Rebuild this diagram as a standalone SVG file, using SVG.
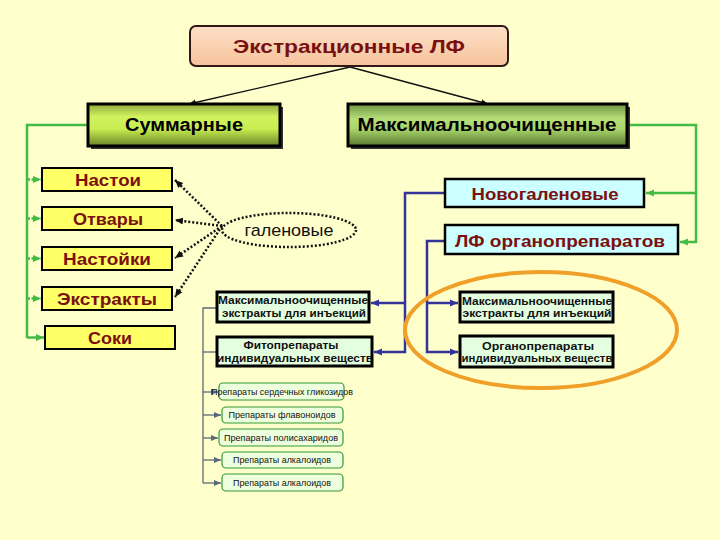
<svg xmlns="http://www.w3.org/2000/svg" width="720" height="540" viewBox="0 0 720 540">
<defs>
<linearGradient id="gTitle" x1="0" y1="0" x2="0" y2="1"><stop offset="0" stop-color="#FCE0C6"/><stop offset="1" stop-color="#F7C39C"/></linearGradient>
<linearGradient id="gSum" x1="0" y1="0" x2="0" y2="1"><stop offset="0" stop-color="#8FA83C"/><stop offset="0.3" stop-color="#D2F25E"/><stop offset="0.6" stop-color="#C6EC50"/><stop offset="1" stop-color="#6A8428"/></linearGradient>
<linearGradient id="gMax" x1="0" y1="0" x2="0" y2="1"><stop offset="0" stop-color="#6E9440"/><stop offset="0.35" stop-color="#B6DE78"/><stop offset="0.6" stop-color="#A8D46A"/><stop offset="1" stop-color="#587A30"/></linearGradient>
<marker id="aBlack" markerWidth="8" markerHeight="8" refX="7" refY="4" orient="auto" markerUnits="userSpaceOnUse"><path d="M0,1 L7,4 L0,7 z" fill="#111"/></marker>
<marker id="aGreen" markerWidth="9" markerHeight="9" refX="8" refY="4.5" orient="auto" markerUnits="userSpaceOnUse"><path d="M0,1 L8,4.5 L0,8 z" fill="#44BB44"/></marker>
<marker id="aBlue" markerWidth="9" markerHeight="9" refX="8" refY="4.5" orient="auto" markerUnits="userSpaceOnUse"><path d="M0,1 L8,4.5 L0,8 z" fill="#333399"/></marker>
<marker id="aGray" markerWidth="8" markerHeight="8" refX="7" refY="4" orient="auto" markerUnits="userSpaceOnUse"><path d="M0,1 L7,4 L0,7 z" fill="#5A6A7A"/></marker>
<marker id="aDot" markerWidth="9" markerHeight="9" refX="8" refY="4.5" orient="auto" markerUnits="userSpaceOnUse"><path d="M0,1 L8,4.5 L0,8 z" fill="#111"/></marker>
</defs>
<style>
.t{font-family:"Liberation Sans",Arial,sans-serif;font-weight:bold;text-anchor:middle}
.red{fill:#7A1010}
.blk{fill:#000}
.yel{fill:#FFFF66;stroke:#000;stroke-width:2}
.cyan{fill:#CCFFFF;stroke:#000;stroke-width:2.5}
.lg{fill:#E4FFE0;stroke:#000;stroke-width:3}
.sm{fill:#EEFFDD;stroke:#339933;stroke-width:1.2}
.st{font-family:"Liberation Sans",Arial,sans-serif;font-size:8.5px;fill:#111;text-anchor:middle}
.mt{font-family:"Liberation Sans",Arial,sans-serif;font-size:11px;font-weight:bold;fill:#111;text-anchor:middle}
.lb{fill:none;stroke:#111;stroke-width:1.3;marker-end:url(#aBlack)}
.lgr{fill:none;stroke:#44BB44;stroke-width:2.5}
.lbl{fill:none;stroke:#333399;stroke-width:2.5}
.lgy{fill:none;stroke:#5A6A7A;stroke-width:1.3}
.ld{fill:none;stroke:#111;stroke-width:2.5;stroke-dasharray:2 2;marker-end:url(#aDot)}
</style>
<rect width="720" height="540" fill="#FFFFCC"/>

<g id="connectors">
<line class="lb" x1="350" y1="67" x2="189" y2="104"/>
<line class="lb" x1="350" y1="67" x2="488" y2="104"/>
<polyline class="lgr" points="88,125 27,125 27,338"/>
<line class="lgr" x1="27" y1="179.5" x2="41" y2="179.5" stroke-dasharray="3 1.5" marker-end="url(#aGreen)"/>
<line class="lgr" x1="27" y1="218.5" x2="41" y2="218.5" stroke-dasharray="3 1.5" marker-end="url(#aGreen)"/>
<line class="lgr" x1="27" y1="258.5" x2="41" y2="258.5" stroke-dasharray="3 1.5" marker-end="url(#aGreen)"/>
<line class="lgr" x1="27" y1="298.5" x2="41" y2="298.5" stroke-dasharray="3 1.5" marker-end="url(#aGreen)"/>
<line class="lgr" x1="27" y1="337.5" x2="44" y2="337.5" marker-end="url(#aGreen)"/>
<polyline class="lgr" points="627,125 696,125 696,242 680,242" marker-end="url(#aGreen)"/>
<line class="lgr" x1="696" y1="193" x2="646" y2="193" marker-end="url(#aGreen)"/>
<polyline class="lbl" points="445,193 405,193 405,352 374,352" marker-end="url(#aBlue)"/>
<line class="lbl" x1="405" y1="303" x2="371" y2="303" marker-end="url(#aBlue)"/>
<polyline class="lbl" points="445,241 427,241 427,352 458,352" marker-end="url(#aBlue)"/>
<line class="lbl" x1="427" y1="303" x2="458" y2="303" marker-end="url(#aBlue)"/>
<polyline class="lgy" points="217,308 203,308 203,483"/>
<line class="lgy" x1="203" y1="352" x2="217" y2="352"/>
<line class="lgy" x1="203" y1="392" x2="218" y2="392" marker-end="url(#aGray)"/>
<line class="lgy" x1="203" y1="415" x2="221" y2="415" marker-end="url(#aGray)"/>
<line class="lgy" x1="203" y1="438" x2="218" y2="438" marker-end="url(#aGray)"/>
<line class="lgy" x1="203" y1="460" x2="221" y2="460" marker-end="url(#aGray)"/>
<line class="lgy" x1="203" y1="483" x2="221" y2="483" marker-end="url(#aGray)"/>
<line class="ld" x1="222" y1="226" x2="175" y2="180"/>
<line class="ld" x1="222" y1="226" x2="175" y2="220"/>
<line class="ld" x1="222" y1="226" x2="175" y2="258"/>
<line class="ld" x1="222" y1="226" x2="175" y2="297"/>
</g>

<g id="title">
<rect x="190" y="26" width="318" height="40" rx="6" fill="url(#gTitle)" stroke="#301818" stroke-width="2"/>
<text class="t red" x="349" y="53" font-size="19" textLength="232" lengthAdjust="spacingAndGlyphs">Экстракционные ЛФ</text>
</g>

<g id="summ">
<rect x="91" y="107" width="192" height="42" fill="#333"/>
<rect x="88" y="104" width="192" height="42" fill="url(#gSum)" stroke="#000" stroke-width="3"/>
<text class="t blk" x="184" y="131" font-size="18" textLength="118" lengthAdjust="spacingAndGlyphs">Суммарные</text>
</g>

<g id="maxoch">
<rect x="351" y="107" width="279" height="42" fill="#333"/>
<rect x="348" y="104" width="279" height="42" fill="url(#gMax)" stroke="#000" stroke-width="3"/>
<text class="t blk" x="487" y="131" font-size="18" textLength="259" lengthAdjust="spacingAndGlyphs">Максимальноочищенные</text>
</g>

<g id="nastoi"><rect class="yel" x="42" y="168" width="130" height="23"/><text class="t red" x="108" y="186" font-size="17" textLength="66" lengthAdjust="spacingAndGlyphs">Настои</text></g>
<g id="otvary"><rect class="yel" x="42" y="207" width="130" height="23"/><text class="t red" x="108" y="225" font-size="17" textLength="70" lengthAdjust="spacingAndGlyphs">Отвары</text></g>
<g id="nastoyki"><rect class="yel" x="42" y="247" width="130" height="23"/><text class="t red" x="107" y="265" font-size="17" textLength="88" lengthAdjust="spacingAndGlyphs">Настойки</text></g>
<g id="extrakty"><rect class="yel" x="42" y="287" width="130" height="23"/><text class="t red" x="107" y="305" font-size="17" textLength="100" lengthAdjust="spacingAndGlyphs">Экстракты</text></g>
<g id="soki"><rect class="yel" x="45" y="326" width="130" height="23"/><text class="t red" x="110" y="344" font-size="17" textLength="44" lengthAdjust="spacingAndGlyphs">Соки</text></g>

<g id="galen">
<ellipse cx="289" cy="230" rx="67" ry="17" fill="none" stroke="#111" stroke-width="2.5" stroke-dasharray="2 2"/>
<text x="289" y="236" font-family="'Liberation Sans',Arial,sans-serif" font-size="17" fill="#111" text-anchor="middle" textLength="89" lengthAdjust="spacingAndGlyphs">галеновые</text>
</g>

<g id="novogalen"><rect class="cyan" x="445" y="179" width="199" height="28"/><text class="t red" x="545" y="200" font-size="16" textLength="147" lengthAdjust="spacingAndGlyphs">Новогаленовые</text></g>
<g id="lforgan"><rect class="cyan" x="445" y="225" width="233" height="29"/><text class="t red" x="560" y="247" font-size="16" textLength="210" lengthAdjust="spacingAndGlyphs">ЛФ органопрепаратов</text></g>

<g id="maxinj-left"><rect class="lg" x="217" y="292" width="152" height="30"/>
<text class="mt" x="293" y="304" textLength="150" lengthAdjust="spacingAndGlyphs">Максимальноочищенные</text>
<text class="mt" x="294" y="317" textLength="144" lengthAdjust="spacingAndGlyphs">экстракты для инъекций</text></g>
<g id="fito"><rect class="lg" x="217" y="337" width="155" height="29"/>
<text class="mt" x="291" y="349" textLength="95" lengthAdjust="spacingAndGlyphs">Фитопрепараты</text>
<text class="mt" x="295" y="362" textLength="156" lengthAdjust="spacingAndGlyphs">индивидуальных веществ</text></g>
<g id="maxinj-right"><rect class="lg" x="460" y="292" width="153" height="30"/>
<text class="mt" x="537" y="305" textLength="150" lengthAdjust="spacingAndGlyphs">Максимальноочищенные</text>
<text class="mt" x="537" y="317" textLength="149" lengthAdjust="spacingAndGlyphs">экстракты для инъекций</text></g>
<g id="organ"><rect class="lg" x="460" y="336" width="153" height="31"/>
<text class="mt" x="538" y="350" textLength="112" lengthAdjust="spacingAndGlyphs">Органопрепараты</text>
<text class="mt" x="537" y="362" textLength="151" lengthAdjust="spacingAndGlyphs">индивидуальных веществ</text></g>

<g id="glik"><rect class="sm" x="219" y="383" width="125" height="17" rx="4"/><text class="st" x="282" y="395" textLength="142" lengthAdjust="spacingAndGlyphs">Препараты сердечных гликозидов</text></g>
<g id="flav"><rect class="sm" x="222" y="407" width="121" height="16" rx="4"/><text class="st" x="282" y="418" textLength="107" lengthAdjust="spacingAndGlyphs">Препараты флавоноидов</text></g>
<g id="polis"><rect class="sm" x="219" y="429" width="124" height="17" rx="4"/><text class="st" x="281" y="441" textLength="114" lengthAdjust="spacingAndGlyphs">Препараты полисахаридов</text></g>
<g id="alk1"><rect class="sm" x="222" y="452" width="121" height="16" rx="4"/><text class="st" x="282" y="463" textLength="98" lengthAdjust="spacingAndGlyphs">Препараты алкалоидов</text></g>
<g id="alk2"><rect class="sm" x="222" y="474" width="121" height="17" rx="4"/><text class="st" x="282" y="486" textLength="98" lengthAdjust="spacingAndGlyphs">Препараты алкалоидов</text></g>

<g id="highlight">
<ellipse cx="541" cy="330" rx="136" ry="58" fill="none" stroke="#F0A028" stroke-width="4"/>
</g>
</svg>
